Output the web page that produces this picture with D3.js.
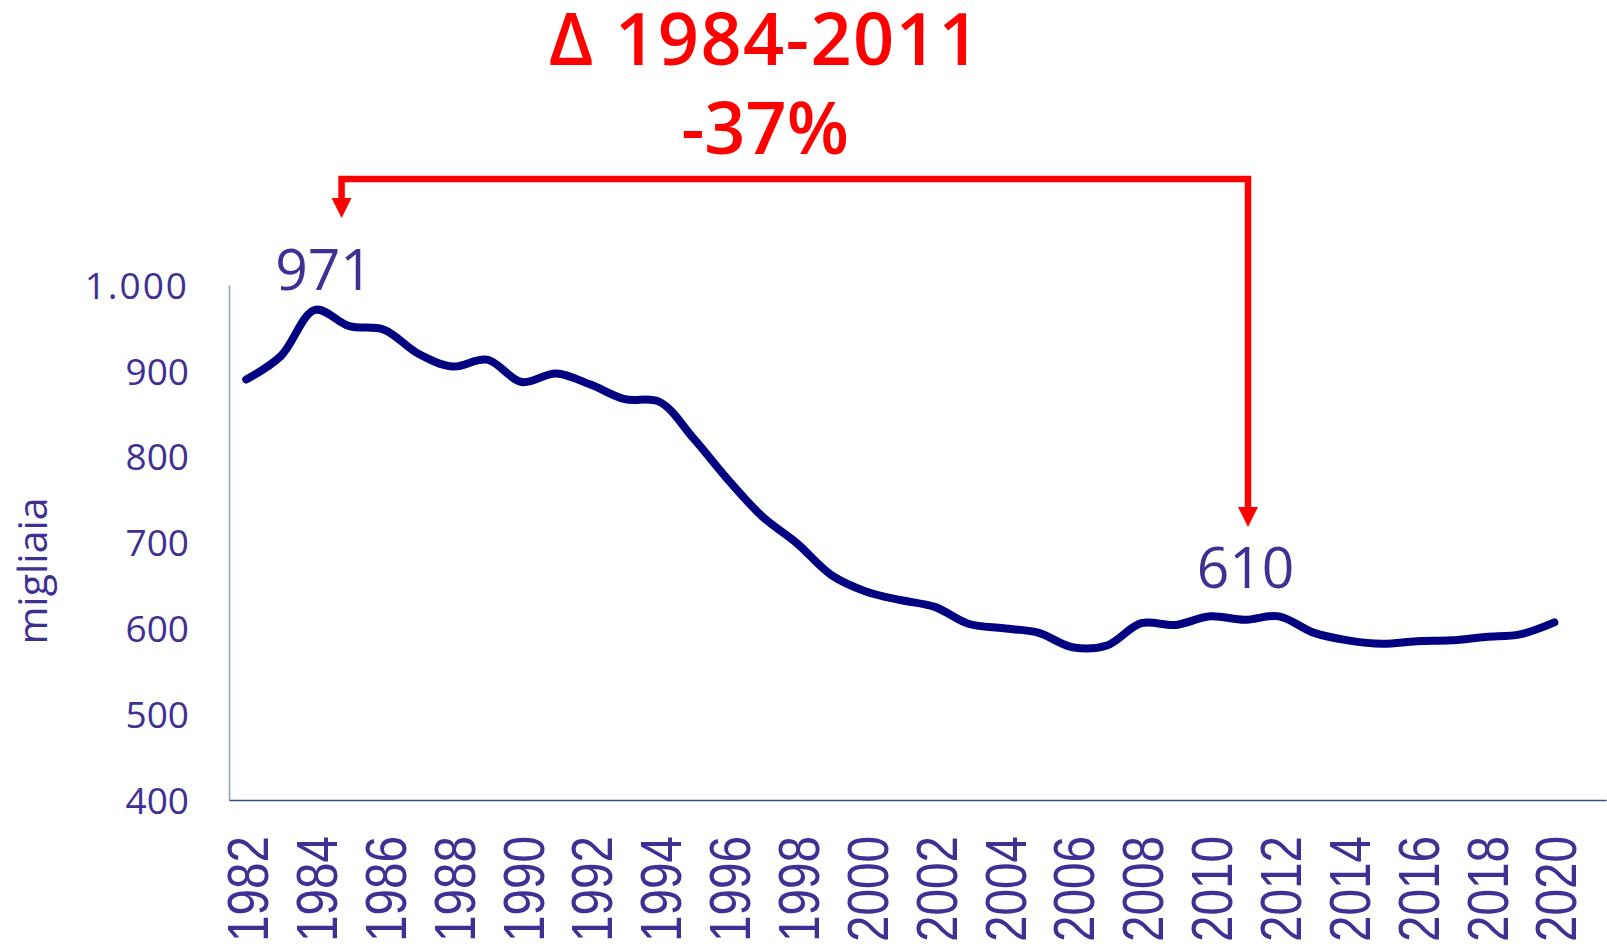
<!DOCTYPE html>
<html>
<head>
<meta charset="utf-8">
<script src="https://cdn.jsdelivr.net/npm/d3@7"></script>
<style>
    body { margin: 0; background: #fff; }
    svg { display: block; }
</style>
</head>
<body>
<svg id="chart" width="1607" height="948"></svg>
<script>
// categories on the x axis (2021 is an empty slot at the right end)
const years = [1982, 1983, 1984, 1985, 1986, 1987, 1988, 1989, 1990, 1991,
    1992, 1993, 1994, 1995, 1996, 1997, 1998, 1999, 2000, 2001,
    2002, 2003, 2004, 2005, 2006, 2007, 2008, 2009, 2010, 2011,
    2012, 2013, 2014, 2015, 2016, 2017, 2018, 2019, 2020, 2021]

// migliaia, 1982 -> 2020
const values = [890, 917, 971, 952, 948, 920, 905, 913, 887, 897,
    884, 867, 864, 821, 773, 730, 699, 662, 643, 633,
    625, 605, 600, 595, 578, 580, 606, 604, 614, 610,
    614, 595, 586, 582, 585, 586, 590, 593, 607]

const yTicks = [400, 500, 600, 700, 800, 900, 1000]
const xTicks = years.filter(d => d % 2 == 0 && d <= 2020)

const pointLabels = [{ year: 1984, value: 971 }, { year: 2011, value: 610 }]
const titleLines = ["Δ 1984-2011", "-37%"]
const yTitle = "migliaia"

const textColor = "#3f3193"
const red = "#ff0000"

let svg = d3.select("#chart")

let plot = { left: 229, right: 1606, top: 285, bottom: 800 }

let x = d3.scaleBand()
    .domain(years)
    .range([plot.left, plot.right])
    .paddingInner(0)
    .paddingOuter(0)

let bw = x.bandwidth()
let cx = yr => x(yr) + bw / 2
// fractional year -> pixel, used for the annotation bracket
let cxf = yr => x(years[0]) + (yr - years[0]) * bw + bw / 2

let y = d3.scaleLinear()
    .domain([400, 1000])
    .range([plot.bottom, plot.top])

// Italian thousands separator
let itFormat = d3.formatLocale({ decimal: ",", thousands: ".", grouping: [3], currency: ["€", ""] }).format(",")

// y axis
let yAxis = svg.append("g")
    .attr("transform", `translate(${plot.left},0)`)
    .call(d3.axisLeft(y).tickValues(yTicks).tickSize(0).tickSizeOuter(0).tickPadding(40).tickFormat(itFormat))

yAxis.select(".domain").attr("stroke", "#8aa0bb").attr("stroke-width", 1.5)
yAxis.selectAll("text")
    .attr("fill", textColor)
    .attr("font-family", "'Open Sans', sans-serif")
    .attr("font-size", 37)
    .attr("dy", "0.36em")
    .attr("letter-spacing", d => d >= 1000 ? 2 : 0)

// x axis
let xAxis = svg.append("g")
    .attr("transform", `translate(0,${plot.bottom})`)
    .call(d3.axisBottom(x).tickValues(xTicks).tickSize(0).tickSizeOuter(0))

xAxis.select(".domain").attr("stroke", "#2a4f86").attr("stroke-width", 1.5)
xAxis.selectAll("text")
    .attr("fill", textColor)
    .attr("font-family", "'Liberation Sans', Arial, sans-serif")
    .attr("font-size", 57)
    .attr("transform", "rotate(-90)")
    .attr("text-anchor", "end")
    .attr("x", -36)
    .attr("y", 22)
    .attr("dy", null)
    .attr("textLength", 106)
    .attr("lengthAdjust", "spacingAndGlyphs")

// the series
let line = d3.line()
    .x((d, i) => cx(years[i]))
    .y(d => y(d))
    .curve(d3.curveCatmullRom)

svg.append("path")
    .datum(values)
    .attr("d", line)
    .attr("fill", "none")
    .attr("stroke", "#000080")
    .attr("stroke-width", 8)
    .attr("stroke-linecap", "round")
    .attr("stroke-linejoin", "round")

// value labels
svg.selectAll("text.point")
    .data(pointLabels)
    .join("text")
    .attr("class", "point")
    .attr("x", (d, i) => cx(d.year) + (i == 0 ? 9 : 1))
    .attr("y", (d, i) => i == 0 ? 290 : 588)
    .attr("text-anchor", "middle")
    .attr("fill", textColor)
    .attr("font-family", "'Open Sans', sans-serif")
    .attr("font-size", 57)
    .text(d => d.value)

// y title
svg.append("text")
    .attr("transform", "translate(47,571) rotate(-90)")
    .attr("text-anchor", "middle")
    .attr("fill", textColor)
    .attr("font-family", "'Open Sans', sans-serif")
    .attr("font-size", 41)
    .text(yTitle)

// red headline
svg.selectAll("text.title")
    .data(titleLines)
    .join("text")
    .attr("class", "title")
    .attr("x", 765)
    .attr("y", (d, i) => i == 0 ? 65 : 154)
    .attr("text-anchor", "middle")
    .attr("fill", red)
    .attr("font-family", "'Open Sans', sans-serif")
    .attr("font-weight", 600)
    .attr("font-size", 72)
    .attr("letter-spacing", (d, i) => i == 0 ? 1.5 : 0)
    .text(d => d)

// bracket from 2011 back to 1984
let leftX = cxf(1984.77)
let rightX = cxf(2011.1)
let barY = 179
let leftTip = 218
let rightTip = 527
let head = 20

svg.append("path")
    .attr("d", `M${leftX},${leftTip - head} V${barY} H${rightX} V${rightTip - head}`)
    .attr("fill", "none")
    .attr("stroke", red)
    .attr("stroke-width", 6.5)
    .attr("stroke-linejoin", "miter")

svg.selectAll("path.head")
    .data([[leftX, leftTip], [rightX, rightTip]])
    .join("path")
    .attr("class", "head")
    .attr("d", d => `M${d[0] - head / 2},${d[1] - head} L${d[0] + head / 2},${d[1] - head} L${d[0]},${d[1]} Z`)
    .attr("fill", red)
</script>
</body>
</html>
